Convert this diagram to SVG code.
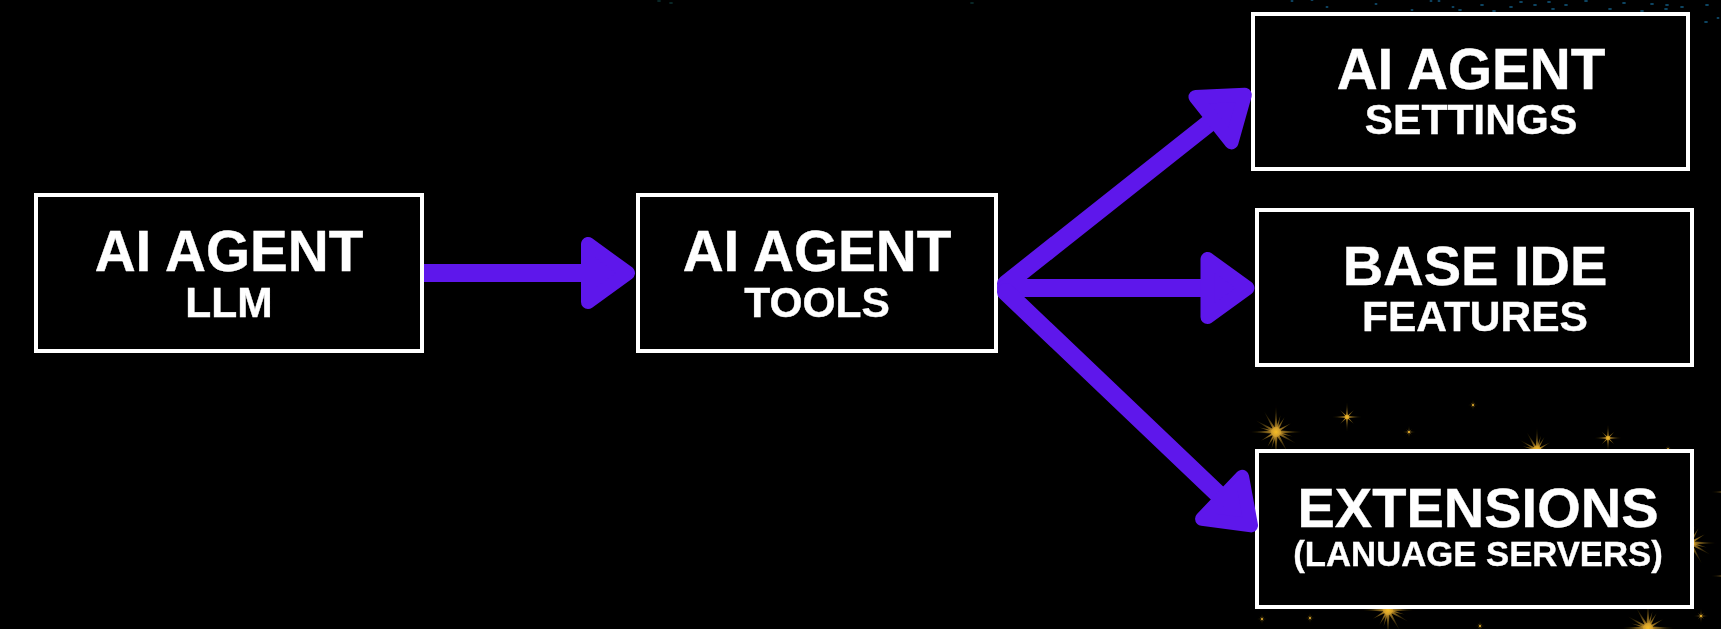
<svg xmlns="http://www.w3.org/2000/svg" width="1721" height="629" viewBox="0 0 1721 629">
<style>
.box{fill:#000;stroke:#fff;stroke-width:4}
text{font-family:"Liberation Sans",Arial,sans-serif;font-weight:700;fill:#fff;stroke:#fff;stroke-width:0.4;text-anchor:middle}
.a{font-size:56.7px}
.t{font-size:56px}
.s{font-size:42.5px}
.shaft{fill:none;stroke:#5e17eb;stroke-width:18;stroke-linecap:round}
.head{fill:#5e17eb;stroke:#5e17eb;stroke-width:14;stroke-linejoin:round}
.dot{fill:#0f4a6a}
.dim{fill:#0a2a2a}
</style>
<defs>
<marker id="arrow" markerUnits="userSpaceOnUse" markerWidth="60" markerHeight="80" refX="0" refY="0" orient="auto" overflow="visible">
<polygon class="head" points="7,-29 7,29 47,0"/>
</marker>
<radialGradient id="gold" gradientUnits="userSpaceOnUse" cx="0" cy="0" r="1">
<stop offset="0" stop-color="#f5bd28"/>
<stop offset="0.2" stop-color="#c8962a" stop-opacity="0.8"/>
<stop offset="0.6" stop-color="#8a6a1c" stop-opacity="0.4"/>
<stop offset="1" stop-color="#6a5010" stop-opacity="0"/>
</radialGradient>
<filter id="soft" x="-10%" y="-10%" width="120%" height="120%"><feGaussianBlur stdDeviation="0.5"/></filter>
<g id="ray"><polygon fill="url(#gold)" points="0,-1 0.06,0 0,1 -0.06,0"/></g>
<g id="ray2"><polygon fill="url(#gold)" points="0,-0.62 0.05,0 0,0.62 -0.05,0"/></g>
<g id="spark">
<use href="#ray"/><use href="#ray" transform="rotate(90)"/>
<use href="#ray2" transform="rotate(45)"/><use href="#ray2" transform="rotate(135)"/>
<circle r="0.14" fill="url(#gold)"/>
</g>
<g id="burst">
<use href="#ray"/><use href="#ray" transform="rotate(90)"/>
<use href="#ray2" transform="rotate(30)"/><use href="#ray2" transform="rotate(60)"/>
<use href="#ray" transform="rotate(120) scale(0.9)"/><use href="#ray" transform="rotate(150) scale(0.9)"/>
<use href="#ray2" transform="rotate(15)"/><use href="#ray2" transform="rotate(105)"/>
<circle r="0.18" fill="url(#gold)"/>
</g>
</defs>
<rect width="1721" height="629" fill="#000"/>
<g id="sparkles" filter="url(#soft)">
<use href="#burst" transform="translate(1276 432) scale(28)"/>
<use href="#spark" transform="translate(1347 417) scale(16)"/>
<use href="#spark" transform="translate(1409 432) scale(7)"/>
<use href="#spark" transform="translate(1473 405) scale(6)"/>
<use href="#burst" transform="translate(1537 450) scale(24)"/>
<use href="#spark" transform="translate(1608 438) scale(15)"/>
<use href="#spark" transform="translate(1668 449) scale(5)"/>
<use href="#burst" transform="translate(1690 543) scale(28)"/>
<use href="#spark" transform="translate(1262 619) scale(6)"/>
<use href="#spark" transform="translate(1310 618) scale(6)"/>
<use href="#burst" transform="translate(1388 610) scale(28)"/>
<use href="#spark" transform="translate(1480 626) scale(6)"/>
<use href="#burst" transform="translate(1648 628) scale(28)"/>
<use href="#spark" transform="translate(1701 616) scale(8)"/>
<use href="#ray" transform="translate(1730 492) rotate(90) scale(20)"/>
<use href="#ray" transform="translate(1730 576) rotate(90) scale(20)"/>
</g>
<g id="dust">
<ellipse class="dim" cx="659" cy="1" rx="2" ry="1"/><ellipse class="dim" cx="671" cy="3" rx="2" ry="1"/><ellipse class="dim" cx="972" cy="3" rx="2" ry="1"/>
<ellipse class="dot" cx="1482" cy="5" rx="2" ry="1"/><ellipse class="dot" cx="1511" cy="7" rx="2" ry="1"/><ellipse class="dot" cx="1521" cy="2" rx="2" ry="1"/><ellipse class="dot" cx="1535" cy="5" rx="2" ry="1"/><ellipse class="dot" cx="1549" cy="2" rx="2" ry="1"/><ellipse class="dot" cx="1566" cy="5" rx="2" ry="1"/><ellipse class="dot" cx="1586" cy="1" rx="2" ry="1"/><ellipse class="dot" cx="1624" cy="3" rx="2" ry="1"/><ellipse class="dot" cx="1652" cy="4" rx="2" ry="1"/><ellipse class="dot" cx="1667" cy="5" rx="2" ry="1"/><ellipse class="dot" cx="1666" cy="9" rx="2" ry="1"/><ellipse class="dot" cx="1682" cy="7" rx="2" ry="1"/><ellipse class="dot" cx="1707" cy="5" rx="2" ry="1"/><ellipse class="dot" cx="1706" cy="22" rx="2" ry="1"/><ellipse class="dot" cx="1553" cy="9" rx="2" ry="1"/><ellipse class="dot" cx="1610" cy="9" rx="2" ry="1"/><ellipse class="dot" cx="1460" cy="10" rx="2" ry="1"/><ellipse class="dot" cx="1453" cy="7" rx="1.5" ry="1"/><ellipse class="dot" cx="1376" cy="4" rx="1.5" ry="1"/><ellipse class="dot" cx="1327" cy="7" rx="1.5" ry="1"/><ellipse class="dot" cx="1292" cy="1" rx="1.5" ry="1"/><ellipse class="dot" cx="1312" cy="0" rx="1.5" ry="1"/><ellipse class="dot" cx="1431" cy="1" rx="1.5" ry="1"/><ellipse class="dot" cx="1439" cy="1" rx="1.5" ry="1"/><ellipse class="dot" cx="1642" cy="11" rx="2" ry="1"/><ellipse class="dot" cx="1412" cy="10" rx="1.5" ry="1"/><ellipse class="dot" cx="1494" cy="11" rx="2" ry="1"/><ellipse class="dot" cx="1718" cy="18" rx="1.5" ry="1"/>
</g>
<g id="node-llm">
<rect class="box" x="36" y="195" width="386" height="156"/>
<text class="a" x="229" y="271">AI AGENT</text>
<text class="s" x="229" y="317">LLM</text>
</g>
<g id="node-tools">
<rect class="box" x="638" y="195" width="358" height="156"/>
<text class="a" x="817" y="271">AI AGENT</text>
<text class="s" x="817" y="317">TOOLS</text>
</g>
<g id="node-settings">
<rect class="box" x="1253" y="14" width="435" height="155"/>
<text class="a" x="1471" y="89">AI AGENT</text>
<text class="s" x="1471" y="134">SETTINGS</text>
</g>
<g id="node-base">
<rect class="box" x="1257" y="210" width="435" height="155"/>
<text class="t" x="1475" y="285">BASE IDE</text>
<text class="s" x="1475" y="331">FEATURES</text>
</g>
<g id="node-extensions">
<rect class="box" x="1257" y="451" width="435" height="156"/>
<text class="t" x="1478" y="527">EXTENSIONS</text>
<text style="font-size:34.7px" x="1478" y="566">(LANUAGE SERVERS)</text>
</g>
<g id="connectors">
<path class="shaft" style="stroke-linecap:butt" d="M424 273H581" marker-end="url(#arrow)"/>
<path class="shaft" d="M1006 284L1208 124" marker-end="url(#arrow)"/>
<path class="shaft" d="M1006 288H1200.5" marker-end="url(#arrow)"/>
<path class="shaft" d="M1006 292L1217 493" marker-end="url(#arrow)"/>
</g>
</svg>
